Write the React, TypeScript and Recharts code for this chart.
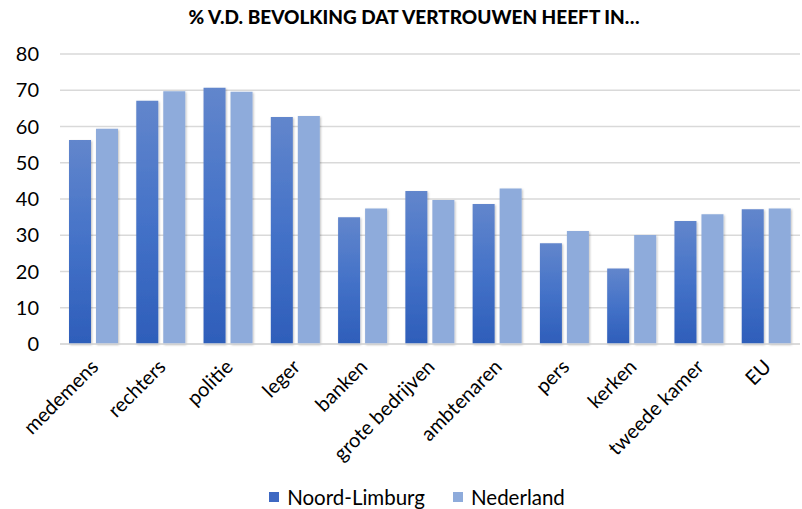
import React from "react"
import { Bar, BarChart, CartesianGrid, Legend, XAxis, YAxis } from "recharts"

const categories = [
  "medemens",
  "rechters",
  "politie",
  "leger",
  "banken",
  "grote bedrijven",
  "ambtenaren",
  "pers",
  "kerken",
  "tweede kamer",
  "EU",
]
const noordLimburg = [56.3, 67.1, 70.7, 62.6, 35.0, 42.2, 38.6, 27.8, 20.8, 33.9, 37.2]
const nederland = [59.4, 69.7, 69.6, 62.9, 37.4, 39.7, 42.9, 31.2, 30.1, 35.8, 37.4]
const yTicks = [0, 10, 20, 30, 40, 50, 60, 70, 80]

const data = categories.map((name, i) => ({
  name,
  noord: noordLimburg[i],
  nl: nederland[i],
}))

const FONT = "Lato, 'Liberation Sans', sans-serif"

function XTick(props: any) {
  const { x, y, payload } = props
  const px = x + 6
  const py = y + 16
  return (
    <text
      x={px}
      y={py}
      transform={`rotate(-45, ${px}, ${py})`}
      textAnchor="end"
      fontSize={20}
      fontFamily={FONT}
      fill="#000"
    >
      {payload.value}
    </text>
  )
}

function LegendContent() {
  const items = [
    { label: "Noord-Limburg", color: "#3e68c2" },
    { label: "Nederland", color: "#8eabdb" },
  ]
  return (
    <div
      style={{
        display: "flex",
        justifyContent: "center",
        fontFamily: FONT,
        fontSize: 20.5,
        color: "#000",
        paddingLeft: 34,
        paddingTop: 6,
      }}
    >
      {items.map((it) => (
        <div key={it.label} style={{ display: "flex", alignItems: "center", margin: "0 14px" }}>
          <span style={{ width: 10, height: 10, background: it.color, display: "inline-block", marginRight: 8 }} />
          {it.label}
        </div>
      ))}
    </div>
  )
}

export default function App() {
  return (
    <div style={{ position: "absolute", left: 0, top: 0, width: 802, height: 509, background: "#fff" }}>
      <div
        style={{
          position: "absolute",
          left: 0,
          top: 5,
          width: 828,
          textAlign: "center",
          fontFamily: FONT,
          fontWeight: 900,
          fontSize: 19,
          color: "#000",
        }}
      >
        % V.D. BEVOLKING DAT VERTROUWEN HEEFT IN…
      </div>
      <BarChart
        width={802}
        height={509}
        data={data}
        margin={{ top: 54, right: 2, left: 0, bottom: 0 }}
        barSize={22}
        barGap={5}
      >
        <defs>
          <linearGradient id="nlGrad" x1="0" y1="0" x2="0" y2="1">
            <stop offset="0%" stopColor="#6286cc" />
            <stop offset="50%" stopColor="#4472c8" />
            <stop offset="100%" stopColor="#2e5eba" />
          </linearGradient>
          <filter id="shadow" x="-20%" y="-5%" width="140%" height="110%">
            <feDropShadow dx="1" dy="1" stdDeviation="1" floodColor="#000" floodOpacity="0.25" />
          </filter>
        </defs>
        <CartesianGrid vertical={false} stroke="#d9d9d9" strokeWidth={1.3} />
        <XAxis
          dataKey="name"
          interval={0}
          height={135}
          tick={<XTick />}
          tickLine={false}
          axisLine={{ stroke: "#d9d9d9", strokeWidth: 1.3 }}
        />
        <YAxis
          width={60}
          domain={[0, 80]}
          ticks={yTicks}
          axisLine={false}
          tickLine={false}
          tickMargin={15}
          tick={{ fontSize: 20, fontFamily: FONT, fill: "#000" }}
        />
        <Legend verticalAlign="bottom" height={30} content={<LegendContent />} />
        <Bar dataKey="noord" name="Noord-Limburg" fill="url(#nlGrad)" filter="url(#shadow)" isAnimationActive={false} />
        <Bar dataKey="nl" name="Nederland" fill="#8eabdb" filter="url(#shadow)" isAnimationActive={false} />
      </BarChart>
    </div>
  )
}
